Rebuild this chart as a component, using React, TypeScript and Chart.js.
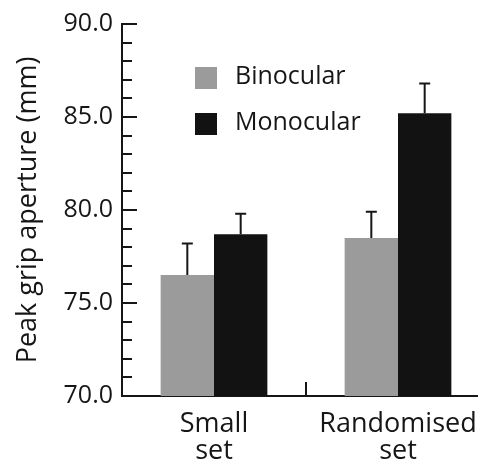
import React, { useEffect, useRef } from "react";
import { Chart, registerables } from "chart.js";

Chart.register(...registerables);

// Mean peak grip aperture (mm) per condition, with upward SEM bars
const categories: string[][] = [["Small", "set"], ["Randomised", "set"]];
const seriesNames = ["Binocular", "Monocular"];
const binocular = [76.5, 78.5];
const monocular = [78.7, 85.2];
const binocularErr = [1.7, 1.4];
const monocularErr = [1.1, 1.6];
const yMin = 70;
const yMax = 90;
const yMajorStep = 5;

const GREY = "#9b9b9b";
const BLACK = "#121212";
const INK = "#161616";
const FONT = "'Open Sans', 'Noto Sans', sans-serif";

const errors = [binocularErr, monocularErr];

// Inward-pointing ticks on both axes
const axisTicks = {
  id: "axisTicks",
  afterDraw(chart: any) {
    const { ctx, chartArea } = chart;
    const y = chart.scales.y;
    const x = chart.scales.x;
    ctx.save();
    ctx.strokeStyle = INK;
    ctx.lineWidth = 2;
    for (let v = yMin; v <= yMax; v += 1) {
      const py = Math.round(y.getPixelForValue(v));
      const len = v % yMajorStep === 0 ? 15 : 10;
      ctx.beginPath();
      ctx.moveTo(chartArea.left, py);
      ctx.lineTo(chartArea.left + len, py);
      ctx.stroke();
    }
    // separator tick between categories
    for (let i = 0; i < categories.length - 1; i++) {
      const px = (x.getPixelForTick(i) + x.getPixelForTick(i + 1)) / 2;
      ctx.beginPath();
      ctx.moveTo(px, chartArea.bottom);
      ctx.lineTo(px, chartArea.bottom - 14);
      ctx.stroke();
    }
    ctx.restore();
  },
};

// Upper error bars with flat caps
const errorBars = {
  id: "errorBars",
  afterDatasetsDraw(chart: any) {
    const { ctx } = chart;
    const y = chart.scales.y;
    ctx.save();
    ctx.strokeStyle = INK;
    ctx.lineWidth = 2;
    chart.data.datasets.forEach((ds: any, di: number) => {
      const meta = chart.getDatasetMeta(di);
      meta.data.forEach((bar: any, i: number) => {
        const top = y.getPixelForValue(ds.data[i]);
        const cap = y.getPixelForValue(ds.data[i] + errors[di][i]);
        ctx.beginPath();
        ctx.moveTo(bar.x, top);
        ctx.lineTo(bar.x, cap);
        ctx.moveTo(bar.x - 5.5, cap);
        ctx.lineTo(bar.x + 5.5, cap);
        ctx.stroke();
      });
    });
    ctx.restore();
  },
};

// Stacked legend inside the plot, top-left
const insetLegend = {
  id: "insetLegend",
  afterDraw(chart: any) {
    const { ctx, chartArea } = chart;
    const x0 = chartArea.left + 73;
    let y0 = chartArea.top + 43;
    ctx.save();
    ctx.font = `25px ${FONT}`;
    ctx.textBaseline = "middle";
    ctx.textAlign = "left";
    chart.data.datasets.forEach((ds: any) => {
      ctx.fillStyle = ds.backgroundColor;
      ctx.fillRect(x0, y0, 22, 22);
      ctx.fillStyle = INK;
      ctx.fillText(ds.label, x0 + 40, y0 + 10);
      y0 += 46;
    });
    ctx.restore();
  },
};

export default function App() {
  const ref = useRef<HTMLCanvasElement>(null);

  useEffect(() => {
    if (!ref.current) return;
    const chart = new Chart(ref.current, {
      type: "bar",
      data: {
        labels: categories as any,
        datasets: [
          {
            label: seriesNames[0],
            data: binocular,
            backgroundColor: GREY,
            barPercentage: 1,
            categoryPercentage: 0.58,
          },
          {
            label: seriesNames[1],
            data: monocular,
            backgroundColor: BLACK,
            barPercentage: 1,
            categoryPercentage: 0.58,
          },
        ],
      },
      plugins: [errorBars, axisTicks, insetLegend],
      options: {
        animation: false,
        responsive: false,
        devicePixelRatio: 1,
        layout: { padding: { top: 24, right: 10, left: 0, bottom: 0 } },
        plugins: {
          legend: { display: false },
          tooltip: { enabled: false },
        },
        scales: {
          x: {
            afterFit(scale: any) {
              scale.height = 68;
            },
            grid: { display: false, drawTicks: false },
            border: { display: true, color: INK, width: 2 },
            ticks: {
              color: INK,
              padding: 15,
              font: { family: FONT, size: 27, lineHeight: 1.0 },
            },
          },
          y: {
            min: yMin,
            max: yMax,
            afterFit(scale: any) {
              scale.width = 122;
            },
            grid: { display: false, drawTicks: false },
            border: { display: true, color: INK, width: 2 },
            ticks: {
              stepSize: 1,
              autoSkip: false,
              padding: 9,
              color: INK,
              font: { family: FONT, size: 25 },
              callback: (v: any) =>
                Number(v) % yMajorStep === 0 ? Number(v).toFixed(1) : "",
            },
            title: {
              display: true,
              text: "Peak grip aperture (mm)",
              color: INK,
              padding: { top: 12, bottom: 0 },
              font: { family: FONT, size: 27 },
            },
          },
        },
      },
    });
    return () => chart.destroy();
  }, []);

  return (
    <div
      style={{
        position: "fixed",
        left: 0,
        top: 0,
        width: 478,
        height: 464,
        overflow: "hidden",
        background: "#fff",
      }}
    >
      <canvas ref={ref} width={500} height={464} />
    </div>
  );
}
